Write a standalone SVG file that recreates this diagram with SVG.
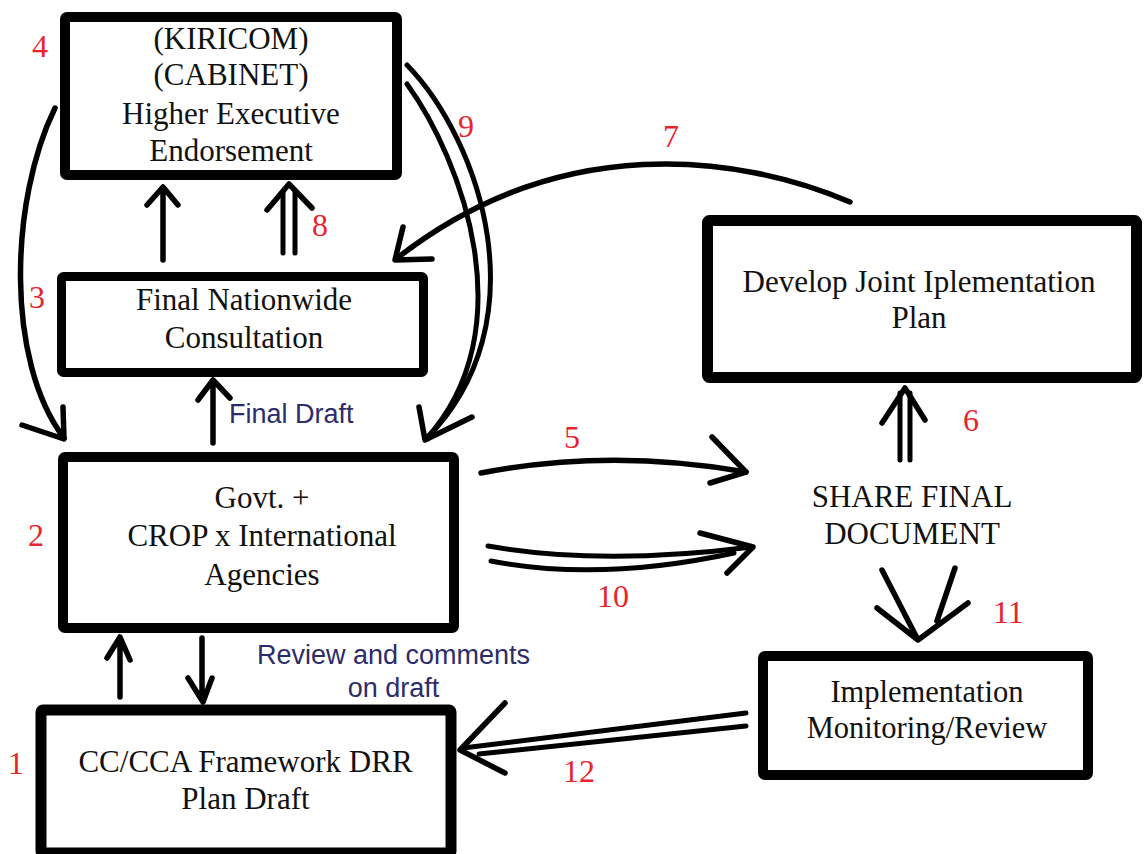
<svg xmlns="http://www.w3.org/2000/svg" width="1144" height="854" viewBox="0 0 1144 854">
<style>
.box{fill:#fff;stroke:#000;stroke-linejoin:round}
.t{font-family:"Liberation Serif","Times New Roman",serif;font-size:31px;fill:#111;text-anchor:middle}
.n{font-family:"Liberation Serif","Times New Roman",serif;font-size:32px;fill:#e8252d}
.b{font-family:"Liberation Sans",Arial,sans-serif;font-size:27px;fill:#2d2c6a}
.c{fill:none;stroke:#000;stroke-width:5.5;stroke-linecap:round;stroke-linejoin:round}
.d{fill:none;stroke:#000;stroke-width:5;stroke-linecap:round;stroke-linejoin:round}
</style>
<rect width="1144" height="854" fill="#fff"/>
<g id="connectors">
  <!-- 3 -> 4 single up -->
  <path class="c" d="M163,260 L163,189 M147,205 L163,187 L178,205"/>
  <!-- 8 double up -->
  <path class="d" d="M283,253 L283,192 M295,253 L295,192"/>
  <path class="c" d="M267,210 L289,184 L312,208"/>
  <!-- Final Draft up -->
  <path class="c" d="M213,443 L213,382 M198,400 L213,380 L230,398"/>
  <!-- 4 curve -->
  <path class="c" d="M55,108 C10,200 5,360 64,438"/>
  <path class="c" d="M22,425 L64,439 L63,407"/>
  <!-- 9 double curve -->
  <path class="d" d="M407,65 C480,140 542,322 426,439"/>
  <path class="d" d="M407,84 C462,160 525,330 426,439"/>
  <path class="c" d="M419,407 L425,440 L472,417"/>
  <!-- 7 curve -->
  <path class="c" d="M850,202 C740,155 560,130 396,259"/>
  <path class="c" d="M403,227 L395,260 L432,259"/>
  <!-- 5 -->
  <path class="c" d="M481,473 Q610,448 746,472"/>
  <path class="c" d="M712,437 L746,472 L710,483"/>
  <!-- 10 double -->
  <path class="d" d="M488,546 Q600,566 752,547"/>
  <path class="d" d="M491,561 Q600,582 734,553"/>
  <path class="c" d="M700,533 L753,547 L727,573"/>
  <!-- 6 double up -->
  <path class="d" d="M900,460 L900,393 M910,460 L910,393"/>
  <path class="c" d="M882,423 L905,388 L925,420"/>
  <!-- 11 -->
  <path class="c" d="M882,570 L918,640 M955,568 L937,621 M877,608 L918,640 L968,603"/>
  <!-- 12 double left -->
  <path class="d" d="M746,713 L463,748 M746,726 L479,754"/>
  <path class="c" d="M505,703 L460,750 L505,773"/>
  <!-- 2 <-> 1 -->
  <path class="c" d="M120,697 L120,639 M107,658 L120,637 L130,660"/>
  <path class="c" d="M202,638 L202,700 M188,678 L203,702 L212,678"/>
</g>
<g id="node-executive">
  <rect class="box" x="65" y="17" width="332" height="158" rx="2" stroke-width="10"/>
  <text class="t" x="231" y="49">(KIRICOM)</text>
  <text class="t" x="231" y="85">(CABINET)</text>
  <text class="t" x="231" y="124">Higher Executive</text>
  <text class="t" x="231" y="161">Endorsement</text>
</g>
<g id="node-consultation">
  <rect class="box" x="61.5" y="276.5" width="362" height="96" rx="2" stroke-width="9"/>
  <text class="t" x="244" y="310">Final Nationwide</text>
  <text class="t" x="244" y="348">Consultation</text>
</g>
<g id="node-govt">
  <rect class="box" x="63" y="457" width="391" height="171" rx="2" stroke-width="10"/>
  <text class="t" x="262" y="508">Govt. +</text>
  <text class="t" x="262" y="546">CROP x International</text>
  <text class="t" x="262" y="585">Agencies</text>
</g>
<g id="node-draft">
  <rect class="box" x="41" y="710" width="410" height="143" rx="2" stroke-width="11"/>
  <text class="t" x="245.5" y="772">CC/CCA Framework DRR</text>
  <text class="t" x="245.5" y="809">Plan Draft</text>
</g>
<g id="node-develop">
  <rect class="box" x="707.5" y="220.5" width="429" height="157" rx="2" stroke-width="11"/>
  <text class="t" x="919" y="292">Develop Joint Iplementation</text>
  <text class="t" x="919" y="328">Plan</text>
</g>
<g id="node-share">
  <text class="t" x="912" y="507">SHARE FINAL</text>
  <text class="t" x="912" y="544">DOCUMENT</text>
</g>
<g id="node-implementation">
  <rect class="box" x="763" y="656" width="325" height="119" rx="2" stroke-width="10"/>
  <text class="t" x="927" y="702" style="font-size:30.5px">Implementation</text>
  <text class="t" x="927" y="738" style="font-size:30.5px">Monitoring/Review</text>
</g>
<g id="labels">
  <text class="n" x="32" y="57">4</text>
  <text class="n" x="29" y="308">3</text>
  <text class="n" x="28" y="546">2</text>
  <text class="n" x="8" y="774">1</text>
  <text class="n" x="458" y="137">9</text>
  <text class="n" x="312" y="236">8</text>
  <text class="n" x="663" y="147">7</text>
  <text class="n" x="564" y="448">5</text>
  <text class="n" x="963" y="431">6</text>
  <text class="n" x="597" y="607">10</text>
  <text class="n" x="993" y="623">11</text>
  <text class="n" x="563" y="782">12</text>
  <text class="b" x="229" y="423">Final Draft</text>
  <text class="b" x="393.5" y="664" text-anchor="middle">Review and comments</text>
  <text class="b" x="393.5" y="697" text-anchor="middle">on draft</text>
</g>
</svg>
